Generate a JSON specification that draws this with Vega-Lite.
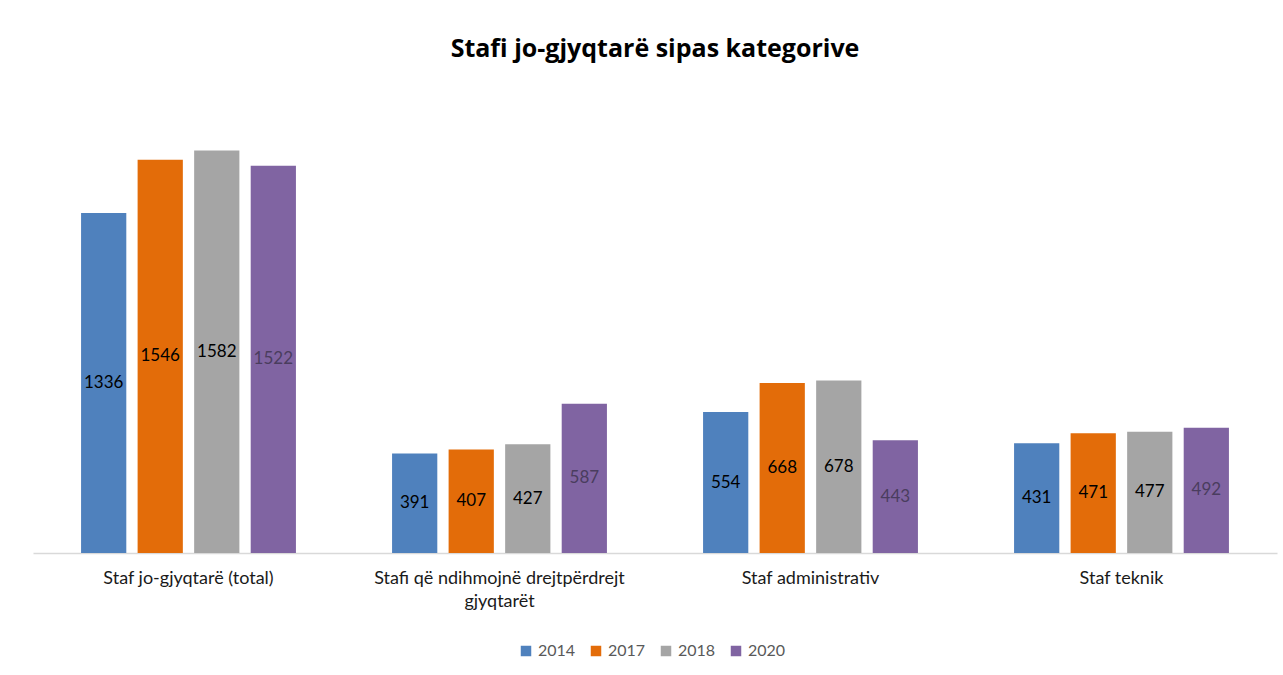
{
  "$schema": "https://vega.github.io/schema/vega-lite/v6.json",
  "autosize": "none",
  "width": 1244,
  "height": 458,
  "padding": {"left": 33, "top": 95, "right": 6, "bottom": 122},
  "background": "white",
  "config": {"view": {"stroke": null}},
  "title": {
    "text": "Stafi jo-gjyqtarë sipas kategorive",
    "font": "Open Sans",
    "fontSize": 25,
    "fontWeight": "bold",
    "color": "#000000",
    "anchor": "middle",
    "offset": 33
  },
  "data": {
    "values": [
      {"kategoria": "Staf jo-gjyqtarë (total)", "viti": "2014", "vlera": 1336},
      {"kategoria": "Staf jo-gjyqtarë (total)", "viti": "2017", "vlera": 1546},
      {"kategoria": "Staf jo-gjyqtarë (total)", "viti": "2018", "vlera": 1582},
      {"kategoria": "Staf jo-gjyqtarë (total)", "viti": "2020", "vlera": 1522},
      {"kategoria": "Stafi që ndihmojnë drejtpërdrejt gjyqtarët", "viti": "2014", "vlera": 391},
      {"kategoria": "Stafi që ndihmojnë drejtpërdrejt gjyqtarët", "viti": "2017", "vlera": 407},
      {"kategoria": "Stafi që ndihmojnë drejtpërdrejt gjyqtarët", "viti": "2018", "vlera": 427},
      {"kategoria": "Stafi që ndihmojnë drejtpërdrejt gjyqtarët", "viti": "2020", "vlera": 587},
      {"kategoria": "Staf administrativ", "viti": "2014", "vlera": 554},
      {"kategoria": "Staf administrativ", "viti": "2017", "vlera": 668},
      {"kategoria": "Staf administrativ", "viti": "2018", "vlera": 678},
      {"kategoria": "Staf administrativ", "viti": "2020", "vlera": 443},
      {"kategoria": "Staf teknik", "viti": "2014", "vlera": 431},
      {"kategoria": "Staf teknik", "viti": "2017", "vlera": 471},
      {"kategoria": "Staf teknik", "viti": "2018", "vlera": 477},
      {"kategoria": "Staf teknik", "viti": "2020", "vlera": 492}
    ]
  },
  "encoding": {
    "x": {
      "field": "kategoria",
      "type": "nominal",
      "sort": null,
      "scale": {"paddingInner": 0, "paddingOuter": 0},
      "axis": {
        "title": null,
        "labelAngle": 0,
        "ticks": false,
        "domainColor": "#d9d9d9",
        "domainWidth": 1.5,
        "labelFont": "Lato",
        "labelFontSize": 18,
        "labelColor": "#1a1a1a",
        "labelPadding": 16,
        "labelLineHeight": 23,
        "labelLimit": 0,
        "labelExpr": "datum.value == 'Stafi që ndihmojnë drejtpërdrejt gjyqtarët' ? ['Stafi që ndihmojnë drejtpërdrejt', 'gjyqtarët'] : datum.value"
      }
    },
    "xOffset": {
      "field": "viti",
      "type": "nominal",
      "scale": {"paddingInner": 0.2, "paddingOuter": 0.85}
    }
  },
  "layer": [
    {
      "mark": {"type": "bar"},
      "encoding": {
        "y": {
          "field": "vlera",
          "type": "quantitative",
          "scale": {"domain": [0, 1800]},
          "axis": null
        },
        "color": {
          "field": "viti",
          "type": "nominal",
          "scale": {"range": ["#4f81bd", "#e36c09", "#a5a5a5", "#8064a2"]},
          "legend": {
            "title": null,
            "orient": "none",
            "legendX": 485,
            "legendY": 548,
            "direction": "horizontal",
            "symbolType": "square",
            "symbolSize": 110,
            "symbolStrokeWidth": 0,
            "labelFont": "Lato",
            "labelFontSize": 16,
            "labelColor": "#595959",
            "columnPadding": 12
          }
        }
      }
    },
    {
      "mark": {"type": "text", "font": "Lato", "fontSize": 17, "baseline": "middle", "align": "center"},
      "encoding": {
        "y": {
          "field": "vlera",
          "type": "quantitative",
          "scale": {"domain": [0, 3600]},
          "axis": null
        },
        "text": {"field": "vlera", "type": "quantitative"},
        "color": {
          "condition": {"test": "datum.viti == '2020'", "value": "#4a3d5e"},
          "value": "#000000"
        }
      }
    }
  ],
  "resolve": {"scale": {"y": "independent"}}
}
